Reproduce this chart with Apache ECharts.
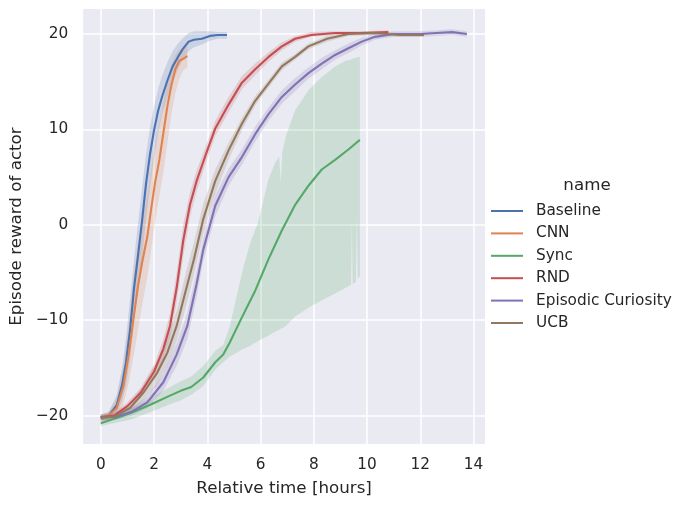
<!DOCTYPE html>
<html>
<head>
<meta charset="utf-8">
<script src="https://cdn.jsdelivr.net/npm/echarts@6/dist/echarts.min.js"></script>
<style>
  html, body { margin: 0; padding: 0; background: #fff; }
  #chart { width: 684px; height: 507px; }
</style>
</head>
<body>
<div id="chart"></div>
<script>
// method names + seaborn "deep" palette
var names = ['Baseline', 'CNN', 'Sync', 'RND', 'Episodic Curiosity', 'UCB']
var colors = ['#4c72b0', '#dd8452', '#55a868', '#c44e52', '#8172b3', '#937860']

var xTicks = [0, 2, 4, 6, 8, 10, 12, 14]
var yTicks = [-20, -10, 0, 10, 20]

// hours, mean reward, lower / upper edge of the band
var baselineT = [0, 0.3, 0.6, 0.8, 0.95, 1.1, 1.25, 1.4, 1.55, 1.7, 1.85, 2.0, 2.15, 2.3, 2.5, 2.7, 2.9, 3.1, 3.3, 3.5, 3.8, 4.1, 4.4, 4.74]
var baselineMean = [-20.2, -20.0, -18.9, -16.8, -14.4, -11.0, -6.6, -3.2, 0.4, 4.3, 7.4, 9.9, 11.9, 13.4, 15.1, 16.6, 17.6, 18.5, 19.2, 19.4, 19.5, 19.8, 19.9, 19.9]
var baselineLow = [-20.5, -20.3, -19.8, -18.4, -16.8, -14.0, -10.0, -6.8, -3.5, 0.5, 4.0, 7.0, 9.5, 11.5, 13.4, 15.0, 16.3, 17.4, 18.2, 18.6, 18.9, 19.3, 19.5, 19.5]
var baselineHigh = [-19.9, -19.6, -17.8, -15.0, -11.8, -7.8, -3.6, 0.2, 3.8, 7.4, 10.2, 12.4, 14.2, 15.6, 17.0, 18.2, 19.0, 19.6, 20.1, 20.3, 20.3, 20.3, 20.2, 20.2]

var cnnT = [0, 0.3, 0.6, 0.85, 1.05, 1.25, 1.4, 1.55, 1.75, 1.9, 2.05, 2.2, 2.35, 2.5, 2.65, 2.8, 2.95, 3.1, 3.25]
var cnnMean = [-20.2, -20.0, -19.2, -16.9, -13.6, -9.4, -6.4, -4.0, -1.2, 1.8, 4.6, 6.8, 9.6, 12.4, 14.6, 16.3, 17.2, 17.4, 17.7]
var cnnLow = [-20.5, -20.3, -20.0, -18.8, -16.5, -13.5, -11.0, -8.5, -5.5, -2.5, 0.5, 3.0, 5.5, 8.5, 11.5, 13.8, 15.3, 16.2, 16.5]
var cnnHigh = [-19.9, -19.6, -18.2, -14.8, -10.5, -5.2, -2.0, 0.3, 3.0, 5.8, 8.5, 10.6, 12.8, 15.0, 16.8, 17.8, 18.4, 18.6, 18.6]

var syncT = [0, 0.3, 0.65, 1.15, 1.9, 2.6, 3.0, 3.4, 3.85, 4.3, 4.6, 4.85, 5.3, 5.8, 6.3, 6.8, 7.3, 7.8, 8.3, 8.8, 9.3, 9.73]
var syncMean = [-20.8, -20.5, -20.2, -19.7, -18.8, -17.9, -17.4, -17.0, -16.0, -14.4, -13.6, -12.3, -9.7, -6.9, -3.6, -0.6, 2.1, 4.1, 5.8, 6.8, 7.9, 8.9]
var syncBandT = [0, 0.3, 0.65, 1.15, 1.9, 2.6, 3.0, 3.4, 3.85, 4.3, 4.6, 4.85, 5.1, 5.35, 5.6, 5.9, 6.3, 6.55, 6.7, 6.76, 6.82, 6.95, 7.3, 7.8, 8.3, 8.8, 9.2, 9.4, 9.43, 9.46, 9.58, 9.62, 9.65, 9.73]
var syncLow = [-21.1, -20.9, -20.7, -20.4, -19.6, -18.8, -18.4, -17.8, -16.9, -15.2, -14.4, -13.8, -13.4, -13.0, -12.7, -12.2, -11.6, -11.2, -11.0, -10.9, -10.8, -10.6, -9.6, -8.7, -7.9, -7.2, -6.6, -6.3, 0.6, -6.2, -6.0, 0.9, -5.6, -5.4]
var syncHigh = [-20.4, -20.1, -19.8, -19.2, -18.1, -17.0, -16.4, -15.9, -14.8, -13.2, -12.6, -10.6, -7.5, -4.5, -2.0, 0.2, 4.8, 6.5, 7.2, 4.4, 7.6, 9.3, 12.0, 14.1, 15.5, 16.6, 17.2, 17.3, 17.4, 17.4, 17.5, 17.5, 17.6, 17.6]

var rndT = [0, 0.5, 1.0, 1.5, 2.0, 2.35, 2.6, 2.85, 3.1, 3.35, 3.6, 3.95, 4.3, 4.8, 5.3, 5.8, 6.3, 6.8, 7.3, 7.9, 8.8, 9.8, 10.8]
var rndMean = [-20.2, -20.0, -19.0, -17.6, -15.4, -13.0, -10.6, -6.6, -1.6, 2.1, 4.6, 7.4, 10.1, 12.6, 14.9, 16.3, 17.6, 18.7, 19.5, 19.9, 20.1, 20.1, 20.2]
var rndLow = [-20.5, -20.3, -19.4, -18.1, -16.1, -14.0, -11.9, -8.2, -3.3, 0.8, 3.5, 6.5, 9.3, 11.8, 14.2, 15.7, 17.1, 18.3, 19.2, 19.7, 19.9, 19.9, 20.0]
var rndHigh = [-19.9, -19.7, -18.6, -17.1, -14.7, -12.0, -9.3, -5.0, 0.1, 3.4, 5.7, 8.3, 10.9, 13.4, 15.6, 16.9, 18.1, 19.1, 19.8, 20.2, 20.3, 20.3, 20.4]

var episodicT = [0, 0.6, 1.15, 1.75, 2.35, 2.85, 3.25, 3.6, 3.85, 4.3, 4.8, 5.3, 5.8, 6.3, 6.8, 7.3, 7.8, 8.3, 8.8, 9.3, 9.8, 10.3, 11.0, 12.0, 12.6, 13.2, 13.75]
var episodicMean = [-20.2, -20.1, -19.6, -18.6, -16.5, -13.6, -10.6, -6.2, -2.6, 2.0, 5.0, 7.1, 9.5, 11.6, 13.4, 14.7, 15.9, 16.9, 17.8, 18.5, 19.2, 19.7, 20.0, 20.0, 20.1, 20.2, 20.0]
var episodicLow = [-20.5, -20.4, -20.0, -19.2, -17.4, -14.8, -12.0, -7.6, -3.8, 0.9, 4.1, 6.3, 8.7, 10.9, 12.7, 14.0, 15.3, 16.3, 17.3, 18.0, 18.8, 19.4, 19.7, 19.7, 19.8, 19.9, 19.7]
var episodicHigh = [-19.9, -19.8, -19.2, -18.0, -15.6, -12.4, -9.2, -4.8, -1.4, 3.1, 5.9, 7.9, 10.3, 12.3, 14.1, 15.4, 16.5, 17.5, 18.3, 19.0, 19.6, 20.0, 20.3, 20.3, 20.4, 20.5, 20.3]

var ucbT = [0, 0.5, 1.1, 1.6, 2.1, 2.5, 2.85, 3.2, 3.5, 3.85, 4.3, 4.8, 5.3, 5.8, 6.3, 6.8, 7.3, 7.8, 8.5, 9.3, 10.3, 11.2, 12.14]
var ucbMean = [-20.2, -20.1, -19.2, -17.6, -15.6, -13.4, -10.6, -6.8, -3.6, 0.6, 4.6, 7.8, 10.6, 13.0, 14.8, 16.6, 17.6, 18.7, 19.5, 20.0, 20.1, 19.9, 19.9]
var ucbLow = [-20.5, -20.4, -19.7, -18.4, -16.8, -14.8, -12.2, -8.6, -5.2, -1.0, 3.2, 6.8, 9.9, 12.5, 14.4, 16.2, 17.3, 18.4, 19.2, 19.8, 19.9, 19.7, 19.7]
var ucbHigh = [-19.9, -19.8, -18.7, -16.8, -14.4, -12.0, -9.0, -5.0, -1.8, 2.2, 5.8, 8.6, 11.2, 13.5, 15.2, 17.0, 17.9, 19.0, 19.8, 20.2, 20.3, 20.1, 20.1]

var runs = [
  { t: baselineT, mean: baselineMean, bandT: baselineT, low: baselineLow, high: baselineHigh },
  { t: cnnT, mean: cnnMean, bandT: cnnT, low: cnnLow, high: cnnHigh },
  { t: syncT, mean: syncMean, bandT: syncBandT, low: syncLow, high: syncHigh },
  { t: rndT, mean: rndMean, bandT: rndT, low: rndLow, high: rndHigh },
  { t: episodicT, mean: episodicMean, bandT: episodicT, low: episodicLow, high: episodicHigh },
  { t: ucbT, mean: ucbMean, bandT: ucbT, low: ucbLow, high: ucbHigh }
]

var font = 'DejaVu Sans'
var textColor = '#262626'

function bandSeries (run, color) {
  return {
    type: 'custom',
    silent: true,
    data: [[0, 0]],
    renderItem: function (params, api) {
      var pts = []
      for (var i = 0; i < run.bandT.length; i++) {
        pts.push(api.coord([run.bandT[i], run.high[i]]))
      }
      for (var j = run.bandT.length - 1; j >= 0; j--) {
        pts.push(api.coord([run.bandT[j], run.low[j]]))
      }
      return {
        type: 'polygon',
        shape: { points: pts },
        style: { fill: color, opacity: 0.2 }
      }
    }
  }
}

var series = []
runs.forEach(function (run, k) {
  series.push(bandSeries(run, colors[k]))
  series.push({
    name: names[k],
    type: 'line',
    showSymbol: false,
    symbol: 'none',
    color: colors[k],
    lineStyle: { width: 2.1, color: colors[k] },
    data: run.t.map(function (x, i) { return [x, run.mean[i]] })
  })
})

var chart = echarts.init(document.getElementById('chart'))
chart.setOption({
  animation: false,
  backgroundColor: '#ffffff',
  title: {
    text: 'name',
    left: 582,
    textAlign: 'center',
    top: 172,
    textStyle: { fontFamily: font, fontSize: 16.7, fontWeight: 'normal', color: textColor }
  },
  legend: {
    data: names,
    orient: 'vertical',
    left: 486,
    top: 197,
    icon: 'rect',
    itemWidth: 32,
    itemHeight: 2,
    itemGap: 4.4,
    textStyle: { fontFamily: font, fontSize: 15.3, color: textColor, lineHeight: 18, padding: [0, 0, 0, 8] }
  },
  grid: {
    left: 80,
    top: 9,
    width: 405,
    height: 435,
    show: true,
    backgroundColor: '#eaeaf2',
    borderWidth: 0
  },
  xAxis: {
    type: 'value',
    min: -0.66,
    max: 14.43,
    name: 'Relative time [hours]',
    nameLocation: 'middle',
    nameGap: 36,
    nameTextStyle: { fontFamily: font, fontSize: 16.7, color: textColor },
    axisLine: { show: false },
    axisTick: { show: false, customValues: xTicks },
    axisLabel: { customValues: xTicks, margin: 14, fontFamily: font, fontSize: 15.3, color: textColor },
    splitLine: { show: true, lineStyle: { color: '#ffffff', width: 1.5 } }
  },
  yAxis: {
    type: 'value',
    min: -22.97,
    max: 22.62,
    name: 'Episode reward of actor',
    nameLocation: 'middle',
    nameGap: 51,
    nameTextStyle: { fontFamily: font, fontSize: 16.7, color: textColor },
    axisLine: { show: false },
    axisTick: { show: false, customValues: yTicks },
    axisLabel: {
      customValues: yTicks,
      margin: 15,
      fontFamily: font,
      fontSize: 15.3,
      color: textColor,
      formatter: function (v) { return v < 0 ? '\u2212' + Math.abs(v) : String(v) }
    },
    splitLine: { show: true, lineStyle: { color: '#ffffff', width: 1.5 } }
  },
  series: series
})
</script>
</body>
</html>
